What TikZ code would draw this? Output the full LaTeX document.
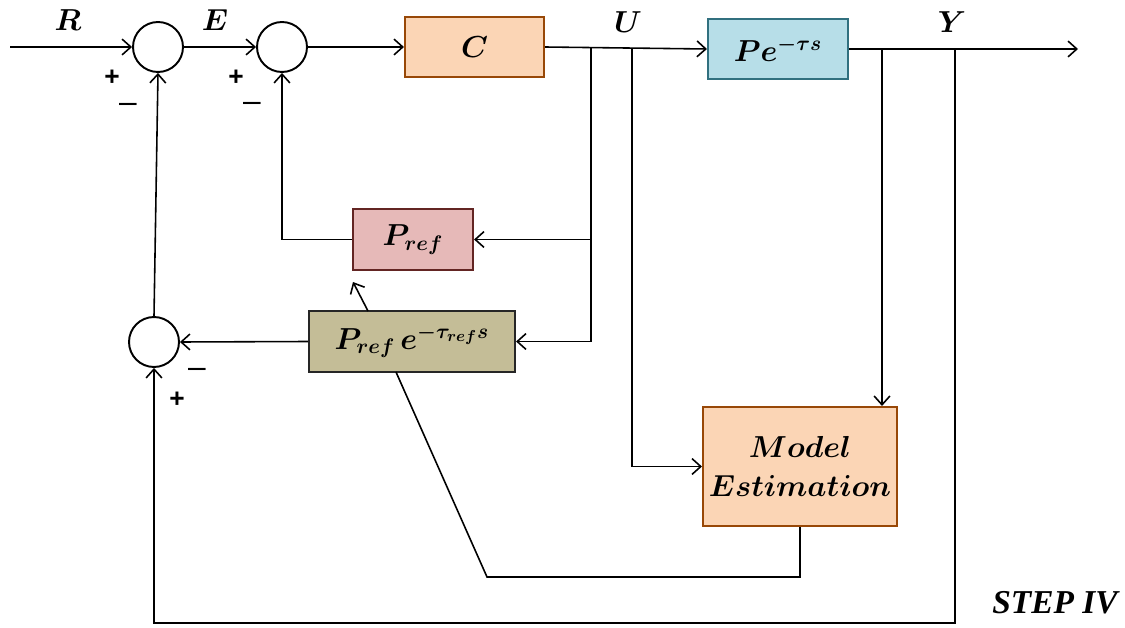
\documentclass[tikz,border=0pt]{standalone}
\usepackage{amsmath}
\usepackage{bm}
\usepackage{fontspec}
\setsansfont{Liberation Sans}
\newfontfamily\stepfont{Liberation Serif}
\usetikzlibrary{arrows.meta,calc}
\definecolor{cfill}{HTML}{FBD5B5}
\definecolor{cdraw}{HTML}{984807}
\definecolor{pfill}{HTML}{B7DEE8}
\definecolor{pdraw}{HTML}{31707F}
\definecolor{rfill}{HTML}{E6B9B8}
\definecolor{rdraw}{HTML}{632523}
\definecolor{efill}{HTML}{C4BD97}
\definecolor{edraw}{HTML}{262626}
\begin{document}
\begin{tikzpicture}[x=0.02cm,y=-0.02cm,
  line width=0.9pt,
  arr/.style={-{Straight Barb[length=5pt,width=9pt,line width=0.9pt]}},
  sumc/.style={circle,draw,line width=1.1pt,minimum size=1cm,inner sep=0pt},
  blk/.style={draw,line width=1.2pt,inner sep=0pt,font=\fontsize{17.5}{20}\selectfont},
  sig/.style={font=\sffamily\bfseries\fontsize{15}{17}\selectfont},
  sigm/.style={font=\sffamily\fontsize{18}{20}\selectfont},
  lbl/.style={font=\fontsize{16.5}{18}\selectfont}
]
\useasboundingbox (0,0) rectangle (1125,628);

% summing junctions
\node[sumc] (sum1) at (158,47) {};
\node[sumc] (sum2) at (282,47) {};
\node[sumc] (sum3) at (154,342) {};

% blocks
\node[blk,fill=cfill,draw=cdraw,minimum width=2.78cm,minimum height=1.2cm] (C) at (474.5,47) {$\bm{C}$};
\node[blk,fill=pfill,draw=pdraw,minimum width=2.8cm,minimum height=1.2cm] (P) at (778,49) {$\bm{Pe^{-\tau s}}$};
\node[blk,fill=rfill,draw=rdraw,minimum width=2.4cm,minimum height=1.22cm] (Pref) at (413,239.5) {$\bm{P_{ref}}$};
\node[blk,fill=efill,draw=edraw,minimum width=4.12cm,minimum height=1.22cm] (Prefe) at (412,341.5) {$\bm{P_{ref}\,e^{-\tau_{ref}s}}$};
\node[blk,fill=cfill,draw=cdraw,minimum width=3.88cm,minimum height=2.38cm,align=center,font=\fontsize{17}{20}\selectfont] (ME) at (800,466.5) {$\bm{Model}$\\[2pt]$\bm{Estimation}$};

% coordinates
\coordinate (in) at (10,47);
\coordinate (out) at (1078,49);
\coordinate (bU1) at (591,47.6);
\coordinate (bU2) at (632,47.9);
\coordinate (bY1) at (882,49);
\coordinate (bY2) at (955,49);
\coordinate (bot) at (955,623);
\coordinate (sA) at (368,311);
\coordinate (tA) at (353,282);
\coordinate (sB) at (396,372);
\coordinate (cB) at (487,577);

% main path
\draw[arr] (in) -- (sum1.west);
\draw[arr] (sum1.east) -- (sum2.west);
\draw[arr] (sum2.east) -- (C.west);
\draw[arr] (C.east) -- (P.west);
\draw[arr] (P.east) -- (out);

% inner feedback
\draw[arr] (bU1) |- (Pref.east);
\draw[arr] (bU1) |- (Prefe.east);
\draw[arr] (Pref.west) -| (sum2.south);
\draw[arr] (Prefe.west) -- (sum3.east);
\draw[arr] (sum3.north) -- (sum1.south);
\draw[arr] (sA) -- (tA);

% model estimation
\draw[arr] (bU2) |- (ME.west);
\draw[arr] (bY1) -- (bY1 |- ME.north);
\draw (ME.south) |- (cB) -- (sB);

% outer feedback
\draw[arr] (bY2) -- (bot) -| (sum3.south);

% labels
\node[lbl] (lR) at (68,20) {$\bm{R}$};
\node[lbl] (lE) at (215,20) {$\bm{E}$};
\node[lbl] (lU) at (628,22) {$\bm{U}$};
\node[lbl] (lY) at (952,22) {$\bm{Y}$};
\node[sig] (p1) at (112,78) {+};
\node[sigm] (m1) at (128,108) {–};
\node[sig] (p2) at (236,78) {+};
\node[sigm] (m2) at (252,107) {–};
\node[sigm] (m3) at (197,373) {–};
\node[sig] (p3) at (177,400) {+};
\node[font=\stepfont\bfseries\itshape\fontsize{19}{21}\selectfont] (step) at (1055,603) {STEP IV};
\end{tikzpicture}
\end{document}
